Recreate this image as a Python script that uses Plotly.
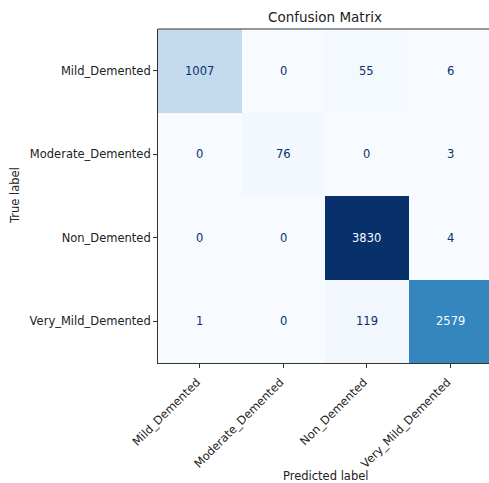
import plotly.graph_objects as go

labels = ["Mild_Demented", "Moderate_Demented", "Non_Demented", "Very_Mild_Demented"]
matrix = [
    [1007, 0, 55, 6],
    [0, 76, 0, 3],
    [0, 0, 3830, 4],
    [1, 0, 119, 2579],
]

blues = ["#f7fbff", "#deebf7", "#c6dbef", "#9ecae1", "#6baed6",
         "#4292c6", "#2171b5", "#08519c", "#08306b"]
colorscale = [[i / (len(blues) - 1), c] for i, c in enumerate(blues)]

W, H = 489, 483
L, T, B = 158, 29, 120
cell = (H - T - B) / 4.0
plot_w = W - L
plot_h = H - T - B
x_max = -0.5 + plot_w / cell


def px_x(px):
    return (px - L) / plot_w


def px_y(py):
    return (H - B - py) / plot_h


fig = go.Figure()
fig.add_trace(go.Heatmap(
    z=matrix, x=list(range(4)), y=list(range(4)),
    colorscale=colorscale, zmin=0, zmax=max(max(r) for r in matrix),
    showscale=False, hoverinfo="skip",
))

vmax = max(max(r) for r in matrix)
vmin = min(min(r) for r in matrix)
thresh = (vmax + vmin) / 2.0
annotations = []
for i, row in enumerate(matrix):
    for j, v in enumerate(row):
        annotations.append(dict(
            x=j, y=i, xref="x", yref="y", text=str(v), showarrow=False,
            font=dict(family="DejaVu Sans", size=11.5,
                      color="#f7fbff" if v > thresh else "#08306b"),
        ))

center_x = px_x(L + 2 * cell)
annotations += [
    dict(text="Confusion Matrix", x=center_x, y=px_y(17),
         xref="paper", yref="paper", showarrow=False, xanchor="center", yanchor="middle",
         font=dict(family="DejaVu Sans", size=13.5, color="#222")),
    dict(text="Predicted label", x=center_x, y=px_y(476),
         xref="paper", yref="paper", showarrow=False, xanchor="center", yanchor="middle",
         font=dict(family="DejaVu Sans", size=11.5, color="#222")),
    dict(text="True label", x=px_x(15), y=px_y(196),
         xref="paper", yref="paper", showarrow=False, xanchor="center", yanchor="middle",
         textangle=-90, font=dict(family="DejaVu Sans", size=11.5, color="#222")),
]

fig.update_layout(
    width=W, height=H,
    margin=dict(l=L, r=0, t=T, b=B, pad=0),
    paper_bgcolor="white", plot_bgcolor="white",
    annotations=annotations,
    xaxis=dict(range=[-0.5, x_max], tickmode="array", tickvals=list(range(4)),
               ticktext=labels, tickangle=-45, ticks="outside", ticklen=4,
               ticklabelshift=-3, ticklabelstandoff=3,
               tickcolor="#333", showline=True, linecolor="#333", linewidth=1,
               showgrid=False, zeroline=False,
               tickfont=dict(family="DejaVu Sans", size=11.5, color="#222")),
    yaxis=dict(range=[3.5, -0.5], tickmode="array", tickvals=list(range(4)),
               ticktext=labels, ticks="outside", ticklen=4,
               tickcolor="#333", showline=True, linecolor="#333", linewidth=1,
               showgrid=False, zeroline=False,
               tickfont=dict(family="DejaVu Sans", size=11.5, color="#222")),
    shapes=[dict(type="line", xref="paper", yref="paper", x0=0, x1=1, y0=1, y1=1,
                 line=dict(color="#333", width=1))],
)

fig.write_html("out.html")
